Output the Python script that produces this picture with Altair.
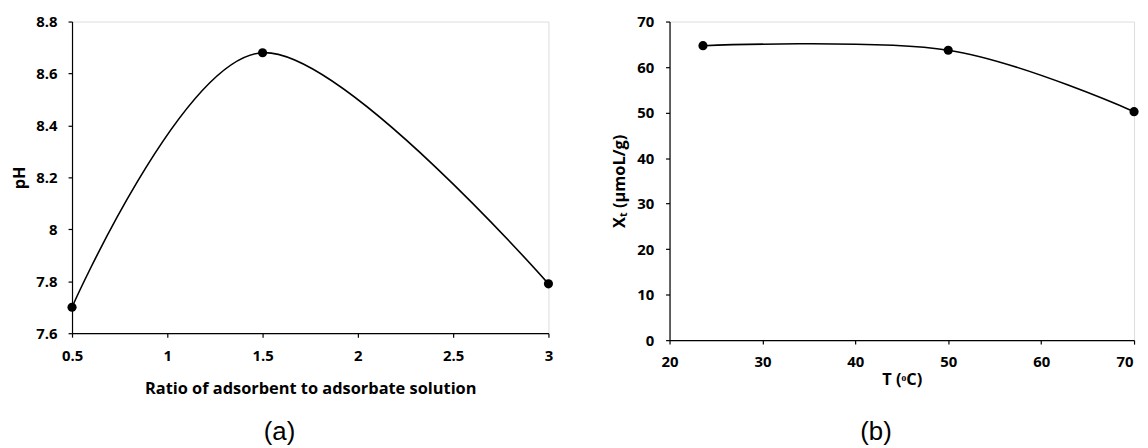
import altair as alt
import pandas as pd

# Panel (a)
ratio = [0.5, 1.5, 3.0]
ph = [7.70, 8.68, 7.79]
ratio_ticks = [0.5, 1.0, 1.5, 2.0, 2.5, 3.0]
ph_ticks = [7.6, 7.8, 8.0, 8.2, 8.4, 8.6, 8.8]

# Panel (b)
temp = [23.6, 50.0, 70.0]
xt = [64.7, 63.7, 50.2]
temp_ticks = [20, 30, 40, 50, 60, 70]
xt_ticks = [0, 10, 20, 30, 40, 50, 60, 70]

FONT = "Open Sans"
PANEL_FONT = "Liberation Sans"

df_a = pd.DataFrame({"ratio": ratio, "ph": ph})
df_b = pd.DataFrame({"temp": temp, "xt": xt})


def make_axis(title, values, fmt, tpad, lpad=11, **kw):
    return alt.Axis(
        title=title, values=values, format=fmt, grid=False,
        tickSize=4, labelPadding=lpad, titlePadding=tpad,
        labelFont=FONT, labelFontSize=15, labelFontWeight="bold",
        titleFont=FONT, titleFontSize=16.5, titleFontWeight="bold",
        domainColor="black", tickColor="black", labelColor="black",
        titleColor="black", labelFlush=False, labelOverlap=False,
        domainWidth=1.2, tickWidth=1.2, **kw,
    )


def panel(df, xf, yf, xdom, ydom, xax, yax, w, h, label, dx, off):
    base = alt.Chart(df).encode(
        x=alt.X(f"{xf}:Q", scale=alt.Scale(domain=xdom, nice=False, zero=False), axis=xax),
        y=alt.Y(f"{yf}:Q", scale=alt.Scale(domain=ydom, nice=False, zero=False), axis=yax),
    )
    line = base.mark_line(interpolate="cardinal", tension=0, color="black", strokeWidth=1.6)
    pts = base.mark_circle(size=85, color="black", opacity=1)
    return (line + pts).properties(
        width=w, height=h,
        title=alt.TitleParams(
            label, orient="bottom", anchor="middle", frame="group", dx=dx, offset=off,
            font=PANEL_FONT, fontSize=26, fontWeight="normal", color="black",
        ),
    )


left = panel(
    df_a, "ratio", "ph", [0.5, 3.0], [7.6, 8.8],
    make_axis("Ratio of adsorbent to adsorbate solution", ratio_ticks, "~g", 18),
    make_axis("pH", ph_ticks, "~g", 8.5),
    480, 314, "(a)", -31, 22,
)

right = panel(
    df_b, "temp", "xt", [20, 70], [0, 70],
    make_axis("T (ᵒC)", temp_ticks, "d", 2,
              labelAlign={"condition": {"test": "datum.value === 70", "value": "right"}, "value": "center"},
              labelOffset={"condition": {"test": "datum.value === 70", "value": -1}, "value": 0}),
    make_axis("Xₜ (µmoL/g)", xt_ticks, "d", 9, lpad=12),
    468, 321, "(b)", -26, 31,
)

chart = alt.hconcat(left, right, spacing=57).properties(
    padding={"left": 2.5, "top": 4, "right": 0, "bottom": 0}
).configure_view(stroke=None).configure(background="white")

chart.save("out.html", embed_options={"renderer": "svg", "actions": False})
